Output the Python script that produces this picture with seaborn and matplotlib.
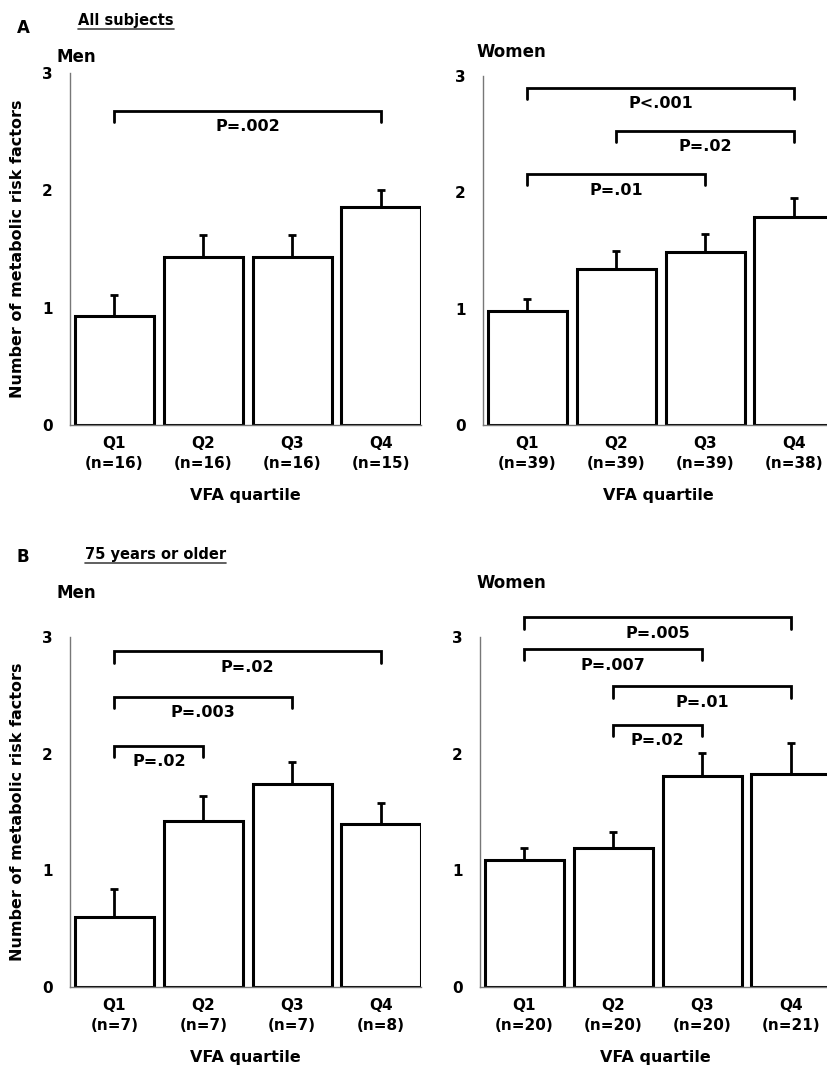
import seaborn as sns
import matplotlib.pyplot as plt
import numpy as np
from matplotlib.lines import Line2D

# data (mean and SEM of number of metabolic risk factors)
quartiles = ["Q1", "Q2", "Q3", "Q4"]

men_all_mean = [0.93, 1.43, 1.43, 1.86]
men_all_sem = [0.18, 0.19, 0.19, 0.14]
men_all_n = [16, 16, 16, 15]

women_all_mean = [0.98, 1.34, 1.49, 1.79]
women_all_sem = [0.10, 0.16, 0.15, 0.16]
women_all_n = [39, 39, 39, 38]

men_old_mean = [0.60, 1.42, 1.74, 1.40]
men_old_sem = [0.24, 0.22, 0.19, 0.18]
men_old_n = [7, 7, 7, 8]

women_old_mean = [1.09, 1.19, 1.81, 1.83]
women_old_sem = [0.10, 0.14, 0.20, 0.26]
women_old_n = [20, 20, 20, 21]

# comparisons: (first quartile, second quartile, bracket height, label)
men_all_cmp = [(0, 3, 2.68, "P=.002")]
women_all_cmp = [(0, 3, 2.90, "P<.001"), (1, 3, 2.53, "P=.02"), (0, 2, 2.16, "P=.01")]
men_old_cmp = [(0, 3, 2.88, "P=.02"), (0, 2, 2.49, "P=.003"), (0, 1, 2.07, "P=.02")]
women_old_cmp = [(0, 3, 3.17, "P=.005"), (0, 2, 2.90, "P=.007"),
                 (1, 3, 2.58, "P=.01"), (1, 2, 2.25, "P=.02")]

sns.set_style("white")
plt.rcParams['font.family'] = ['DejaVu Sans']
plt.rcParams['text.color'] = 'black'
plt.rcParams['axes.labelcolor'] = 'black'

fig = plt.figure(figsize=(8.28, 10.75), dpi=100)


def panel(rect, mean, sem, n, cmp, ylabel):
    ax = fig.add_axes(rect)
    labels = [q + "\n(n=" + str(k) + ")" for q, k in zip(quartiles, n)]
    sns.barplot(x=labels, y=mean, ax=ax, color="white", edgecolor="black",
                linewidth=2.2, width=0.89, errorbar=None, order=labels)
    ax.errorbar(range(4), mean, yerr=[np.zeros(4), sem], fmt="none",
                ecolor="black", elinewidth=2.0, capsize=3, capthick=2.0, zorder=5)
    for i, j, lvl, txt in cmp:
        ax.plot([i, i, j, j], [lvl - 0.1, lvl, lvl, lvl - 0.1], color="black",
                lw=2.0, solid_joinstyle="miter", clip_on=False)
        ax.text((i + j) / 2, lvl - 0.14, txt, ha="center", va="center",
                fontsize=11.5, fontweight="bold")
    ax.set_ylim(0, 3)
    ax.set_xlim(-0.5, 3.45)
    ax.set_yticks([0, 1, 2, 3])
    ax.set_yticklabels(["0", "1", "2", "3"], fontweight="bold", fontsize=11)
    ax.tick_params(axis="y", direction="inout", length=7, width=1, color="#777777",
                   labelcolor="black", pad=9)
    ax.tick_params(axis="x", length=0, pad=8, labelsize=11, labelcolor="black")
    for lab in ax.get_xticklabels():
        lab.set_linespacing(1.4)
        lab.set_fontweight("bold")
    for s in ["top", "right"]:
        ax.spines[s].set_visible(False)
    for s in ["left", "bottom"]:
        ax.spines[s].set_color("#777777")
        ax.spines[s].set_linewidth(1)
    ax.set_xlabel("VFA quartile", fontsize=11.5, fontweight="bold", labelpad=12)
    if ylabel:
        ax.set_ylabel("Number of metabolic risk factors", fontsize=11.5,
                      fontweight="bold", labelpad=12)
    return ax


panel([70 / 828, 1 - 425 / 1075, 351 / 828, 352 / 1075],
      men_all_mean, men_all_sem, men_all_n, men_all_cmp, True)
panel([483 / 828, 1 - 425 / 1075, 351 / 828, 349 / 1075],
      women_all_mean, women_all_sem, women_all_n, women_all_cmp, False)
panel([70 / 828, 1 - 987 / 1075, 351 / 828, 350 / 1075],
      men_old_mean, men_old_sem, men_old_n, men_old_cmp, True)
panel([480 / 828, 1 - 987 / 1075, 351 / 828, 350 / 1075],
      women_old_mean, women_old_sem, women_old_n, women_old_cmp, False)

fig.text(23 / 828, 1 - 28 / 1075, "A", fontsize=12, fontweight="bold", ha="center", va="center")
fig.text(23 / 828, 1 - 557 / 1075, "B", fontsize=12, fontweight="bold", ha="center", va="center")
heads = [fig.text(78 / 828, 1 - 20 / 1075, "All subjects", fontsize=10.5, fontweight="bold",
                  ha="left", va="center"),
         fig.text(85 / 828, 1 - 554 / 1075, "75 years or older", fontsize=10.5,
                  fontweight="bold", ha="left", va="center")]
fig.text(57 / 828, 1 - 57 / 1075, "Men", fontsize=12, fontweight="bold", ha="left", va="center")
fig.text(477 / 828, 1 - 52 / 1075, "Women", fontsize=12, fontweight="bold", ha="left", va="center")
fig.text(57 / 828, 1 - 593 / 1075, "Men", fontsize=12, fontweight="bold", ha="left", va="center")
fig.text(477 / 828, 1 - 583 / 1075, "Women", fontsize=12, fontweight="bold", ha="left", va="center")

# underline the group headings
fig.canvas.draw()
r = fig.canvas.get_renderer()
for t in heads:
    bb = t.get_window_extent(r).transformed(fig.transFigure.inverted())
    fig.add_artist(Line2D([bb.x0, bb.x1], [bb.y0 - 0.001, bb.y0 - 0.001],
                          color="#444444", lw=1.2))

fig.savefig("out.png", dpi=100)
